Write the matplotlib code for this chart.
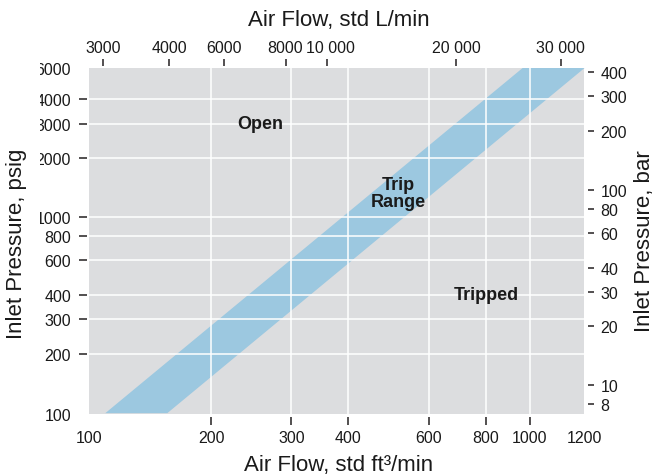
import matplotlib
matplotlib.use('Agg')
import matplotlib.pyplot as plt
from matplotlib.ticker import NullLocator
from matplotlib.patches import Rectangle
from matplotlib.transforms import ScaledTranslation

plt.rcParams['font.family'] = ['Liberation Sans', 'DejaVu Sans']

# ---------------- data ----------------
# trip band: flow (std ft3/min) at the band edges for two inlet pressures (psig)
pressure_psig = [100, 6000]
trip_flow_low = [117, 978]
trip_flow_high = [160, 1337]

x_ticks = [200, 300, 400, 600, 800, 1000]
x_corner_labels = ['100', '1200']
y_ticks = [200, 300, 400, 600, 800, 1000, 2000, 3000, 4000]
y_corner_labels = ['100', '6000']
bar_ticks = [8, 10, 20, 30, 40, 60, 80, 100, 200, 300, 400]
top_tick_labels = ['3000', '4000', '6000', '8000', '10 000', '20 000', '30 000']
top_tick_at_cfm = [116, 162, 214, 292, 360, 690, 1168]   # where each L/min tick sits

region_labels = ['Open', 'Trip\nRange', 'Tripped']
region_x = [256, 515, 805]
region_y = [2990, 1320, 400]

x_limits = (108, 1315)
y_limits = (98.4, 5780)
psig_per_bar = 13.8

# ---------------- figure ----------------
W, H = 654, 477
TXT = '#1a1a1a'
TICKC = '#231f20'
TS = 11.5
fig = plt.figure(figsize=(W / 100, H / 100), dpi=100)
ax = fig.add_axes([89 / W, 1 - 415 / H, 495 / W, 346 / H])
ax.set_facecolor('#DCDDDF')
ax.set_xscale('log')
ax.set_yscale('log')
ax.set_xlim(*x_limits)
ax.set_ylim(*y_limits)

ax.fill_betweenx(pressure_psig, trip_flow_low, trip_flow_high,
                 color='#9CC8E0', lw=0, zorder=1)

ax.set_xticks(x_ticks, labels=[str(v) for v in x_ticks])
ax.set_yticks(y_ticks, labels=[str(v) for v in y_ticks])
ax.xaxis.set_minor_locator(NullLocator())
ax.yaxis.set_minor_locator(NullLocator())
ax.grid(True, which='major', color='white', lw=1.1)

XPAD, YPAD = 3.5, 5.5
for s in ax.spines.values():
    s.set_visible(False)
ax.spines['left'].set_position(('outward', 1.44))
ax.spines['bottom'].set_position(('outward', 1.9))
ax.tick_params(axis='x', length=6, width=1.1, color=TICKC, labelsize=TS,
               labelcolor=TXT, pad=XPAD)
ax.tick_params(axis='y', length=6, width=1.1, color=TICKC, labelsize=TS,
               labelcolor=TXT, pad=YPAD)

# corner labels without tick marks
ax.annotate(x_corner_labels[0], xy=(0, 0), xycoords='axes fraction',
            xytext=(0, -(1.9 + 6 + XPAD)), textcoords='offset points',
            ha='center', va='top', fontsize=TS, color=TXT)
ax.annotate(x_corner_labels[1], xy=(1, 0), xycoords='axes fraction',
            xytext=(0, -(1.9 + 6 + XPAD)), textcoords='offset points',
            ha='center', va='top', fontsize=TS, color=TXT)
ax.annotate(y_corner_labels[0], xy=(0, 0), xycoords='axes fraction',
            xytext=(-(1.44 + 6 + YPAD), 0), textcoords='offset points',
            ha='right', va='center_baseline', fontsize=TS, color=TXT)
ax.annotate(y_corner_labels[1], xy=(0, 1), xycoords='axes fraction',
            xytext=(-(1.44 + 6 + YPAD), 0), textcoords='offset points',
            ha='right', va='center_baseline', fontsize=TS, color=TXT)

for lab, xv, yv in zip(region_labels, region_x, region_y):
    ax.text(xv, yv, lab, ha='center', va='center', fontsize=13,
            fontweight='bold', color=TXT, linespacing=1.0, zorder=4)

# right axis: bar
ax2 = ax.twinx()
ax2.set_yscale('log')
ax2.set_ylim(y_limits[0] / psig_per_bar, y_limits[1] / psig_per_bar)
ax2.set_yticks(bar_ticks, labels=[str(v) for v in bar_ticks])
ax2.yaxis.set_minor_locator(NullLocator())
for s in ax2.spines.values():
    s.set_visible(False)
ax2.spines['right'].set_position(('outward', 2.9))
ax2.tick_params(axis='y', length=4.5, width=1.1, color=TICKC, labelsize=TS,
                labelcolor=TXT, pad=4.5)

# top axis: L/min
ax3 = ax.twiny()
ax3.set_xscale('log')
ax3.set_xlim(*x_limits)
ax3.set_xticks(top_tick_at_cfm, labels=top_tick_labels)
ax3.xaxis.set_minor_locator(NullLocator())
for s in ax3.spines.values():
    s.set_visible(False)
ax3.spines['top'].set_position(('outward', 1.44))
ax3.tick_params(axis='x', length=5.3, width=1.1, color=TICKC, labelsize=TS,
                labelcolor=TXT, pad=2.4)
for lbl in ax3.get_xticklabels():
    if lbl.get_text() == '10 000':
        lbl.set_transform(lbl.get_transform() +
                          ScaledTranslation(3 / 100, 0, fig.dpi_scale_trans))
    elif lbl.get_text() == '8000':
        lbl.set_transform(lbl.get_transform() +
                          ScaledTranslation(-1 / 100, 0, fig.dpi_scale_trans))

# the reference crops the left edge of the 4-digit psig labels
fig.add_artist(Rectangle((0, 0), 40 / W, 1, transform=fig.transFigure,
                         facecolor='white', edgecolor='none', zorder=5))

# axis titles
fig.text(339 / W, 1 - 471 / H, 'Air Flow, std ft³/min', ha='center',
         va='baseline', fontsize=16, color=TXT, zorder=6)
fig.text(339 / W, 1 - 26 / H, 'Air Flow, std L/min', ha='center',
         va='baseline', fontsize=16, color=TXT, zorder=6)
fig.text(17 / W, 1 - 244 / H, 'Inlet Pressure, psig', rotation=90,
         ha='center', va='center', fontsize=16, color=TXT, zorder=6)
fig.text(634 / W, 1 - 241 / H, 'Inlet Pressure, bar', rotation=90,
         ha='left', va='center', fontsize=16, color=TXT, zorder=6)

fig.savefig('out.png', dpi=100)
